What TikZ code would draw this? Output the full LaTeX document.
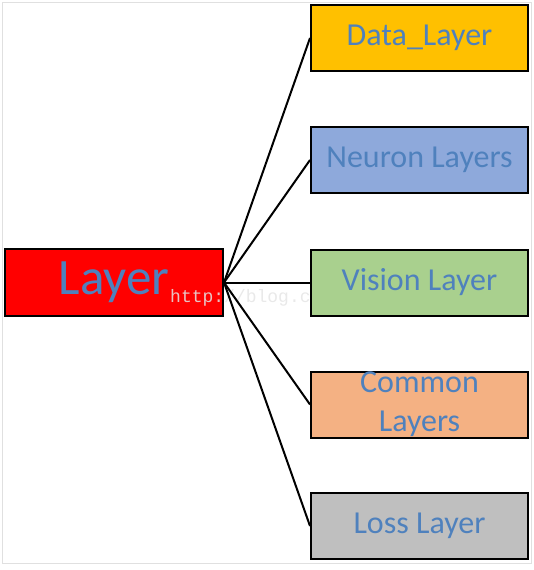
\documentclass[tikz,border=0pt]{standalone}
\usepackage{fontspec}
\setmainfont{Carlito}
\newfontfamily\wmfont{Liberation Mono}
\definecolor{txt}{RGB}{79,129,189}
\definecolor{cData}{RGB}{255,192,0}
\definecolor{cNeuron}{RGB}{142,169,219}
\definecolor{cVision}{RGB}{169,208,142}
\definecolor{cCommon}{RGB}{244,177,131}
\definecolor{cLoss}{RGB}{191,191,191}
\definecolor{cLayer}{RGB}{255,0,0}
\begin{document}
\begin{tikzpicture}[x=1pt,y=-1pt,
  box/.style={draw=black,line width=2pt,minimum width=217pt,minimum height=66pt,inner sep=0pt,text=txt,font=\fontsize{32}{38}\selectfont,align=center},
  link/.style={line width=2pt,black}]
\useasboundingbox (0,0) rectangle (533,570);
\draw[black!12,line width=0.8pt] (2.5,2.5) rectangle (531,563);
\node[box,fill=cLayer,minimum width=218pt,minimum height=67pt,font=\fontsize{51}{56}\selectfont] (layer) at (114,282.5) {\raisebox{-3pt}{Layer}};
\node[text=white!80!gray,opacity=0.85,font=\fontsize{18}{20}\selectfont\wmfont,anchor=base west,inner sep=0pt] (wm) at (170,302) {http://blog.cs};
\node[box,fill=cData] (data) at (419.5,38) {\raisebox{-2pt}{Data\_Layer}};
\node[box,fill=cNeuron] (neuron) at (419.5,160) {\raisebox{-2pt}{Neuron Layers}};
\node[box,fill=cVision] (vision) at (419.5,282.5) {\raisebox{-2pt}{Vision Layer}};
\node[box,fill=cCommon,font=\fontsize{32}{39}\selectfont] (common) at (419.5,404.5) {Common\\Layers};
\node[box,fill=cLoss] (loss) at (419.5,526) {\raisebox{-2pt}{Loss Layer}};
\foreach \t in {data,neuron,vision,common,loss}
  \draw[link] (layer.east) -- (\t.west);
\end{tikzpicture}
\end{document}
